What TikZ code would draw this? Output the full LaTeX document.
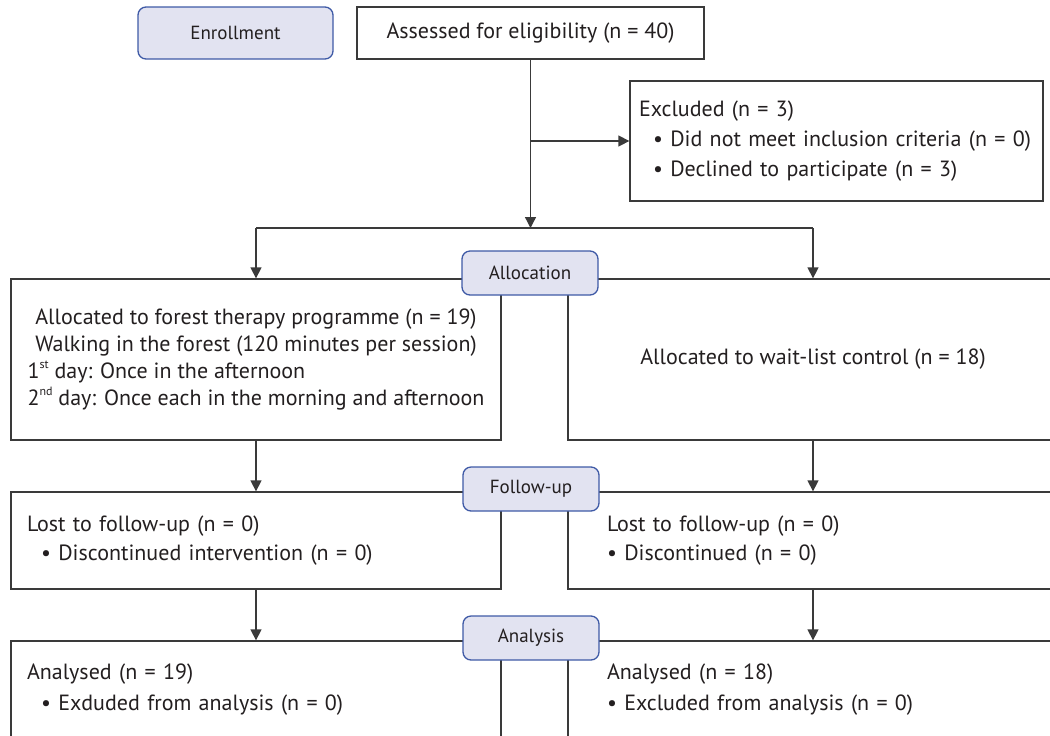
\documentclass[tikz,border=0pt]{standalone}
\usepackage{fontspec}
\setmainfont{PT Sans}
\usetikzlibrary{arrows.meta}

\definecolor{stageblue}{HTML}{3F5AA6}
\definecolor{stagefill}{HTML}{E2E3F1}
\definecolor{linegray}{HTML}{3A3A3A}
\definecolor{textgray}{HTML}{231F20}

\newcommand{\smallsup}[1]{\raisebox{0.9ex}{\fontsize{6}{6}\selectfont #1}}

\tikzset{
    box/.style={draw=linegray, fill=white, line width=0.65pt, text=textgray,
        font=\fontsize{11}{13.5}\selectfont},
    stage/.style={draw=stageblue, fill=stagefill, line width=0.65pt, rounded corners=4pt,
        text=textgray, minimum width=68pt, minimum height=22pt,
        font=\fontsize{9.5}{11}\selectfont},
    arrow/.style={draw=linegray, line width=0.65pt, -{Triangle[length=5.5pt,width=5.5pt]}},
    link/.style={draw=linegray, line width=0.65pt},
}

\begin{document}
\begin{tikzpicture}[x=0.5pt,y=-0.5pt]
        \useasboundingbox (0,0) rectangle (1050,735);
        \clip (0,0) rectangle (1050,735);

        % enrollment
        \node[stage, minimum width=97.5pt, minimum height=26pt] (enroll) at (235.5,33) {Enrollment};
        \node[box, minimum width=173.5pt, minimum height=26pt] (assess) at (530.5,33) {Assessed for eligibility (n = 40)};
        \node[box, minimum width=206.5pt, minimum height=60pt, text width=197.5pt, inner xsep=4.5pt, align=left] (excl) at (836.5,141)
            {Excluded (n = 3)\\[1.5pt] \hspace{7pt}\textbullet{} Did not meet inclusion criteria (n = 0)\\[1.5pt] \hspace{7pt}\textbullet{} Declined to participate (n = 3)};

        % allocation
        \node[box, minimum width=245pt, minimum height=80.5pt] (forest) at (256,359.5)
            {\begin{tabular}{@{}l@{}}
                \multicolumn{1}{@{}c@{}}{Allocated to forest therapy programme (n = 19)}\\
                \multicolumn{1}{@{}c@{}}{Walking in the forest (120 minutes per session)}\\
                1\smallsup{st} day: Once in the afternoon\\
                2\smallsup{nd} day: Once each in the morning and afternoon
            \end{tabular}};
        \node[box, minimum width=245pt, minimum height=80.5pt] (wait) at (813,359.5) {Allocated to wait-list control (n = 18)};

        % follow-up
        \node[box, minimum width=245pt, minimum height=48.5pt, text width=229pt, inner xsep=8pt, align=left] (lostL) at (256,540.5)
            {\raisebox{-1.5pt}{Lost to follow-up (n = 0)}\\[1pt] \raisebox{-1.5pt}{\hspace{7pt}\textbullet{} Discontinued intervention (n = 0)}};
        \node[box, minimum width=245pt, minimum height=48.5pt, text width=206pt, inner xsep=19.5pt, align=left] (lostR) at (813,540.5)
            {\raisebox{-1.5pt}{Lost to follow-up (n = 0)}\\[1pt] \raisebox{-1.5pt}{\textbullet{} Discontinued (n = 0)}};

        % analysis
        \node[box, minimum width=245pt, minimum height=48.5pt, text width=229pt, inner xsep=8pt, align=left] (anaL) at (256,689.5)
            {Analysed (n = 19)\\[2pt] \hspace{7pt}\textbullet{} Exduded from analysis (n = 0)};
        \node[box, minimum width=245pt, minimum height=48.5pt, text width=206pt, inner xsep=19.5pt, align=left] (anaR) at (813,689.5)
            {Analysed (n = 18)\\[2pt] \textbullet{} Excluded from analysis (n = 0)};

        % connectors
        \coordinate (split) at (assess.south |- 0,228);
        \coordinate (branch) at (assess.south |- excl.west);
        \coordinate (splitL) at (forest.north |- split);
        \coordinate (splitR) at (wait.north |- split);
        \draw[arrow] (assess.south) -- (split);
        \draw[arrow] (branch) -- (excl.west);
        \draw[link] (splitL) -- (splitR);
        \draw[arrow] (splitL) -- (forest.north);
        \draw[arrow] (splitR) -- (wait.north);
        \draw[arrow] (forest.south) -- (lostL.north);
        \draw[arrow] (wait.south) -- (lostR.north);
        \draw[arrow] (lostL.south) -- (anaL.north);
        \draw[arrow] (lostR.south) -- (anaR.north);

        % stage labels
        \node[stage] (alloc) at (530,273) {Allocation};
        \node[stage] (follow) at (531,489) {Follow-up};
        \node[stage] (analysis) at (531,638) {Analysis};
    \end{tikzpicture}
\end{document}
